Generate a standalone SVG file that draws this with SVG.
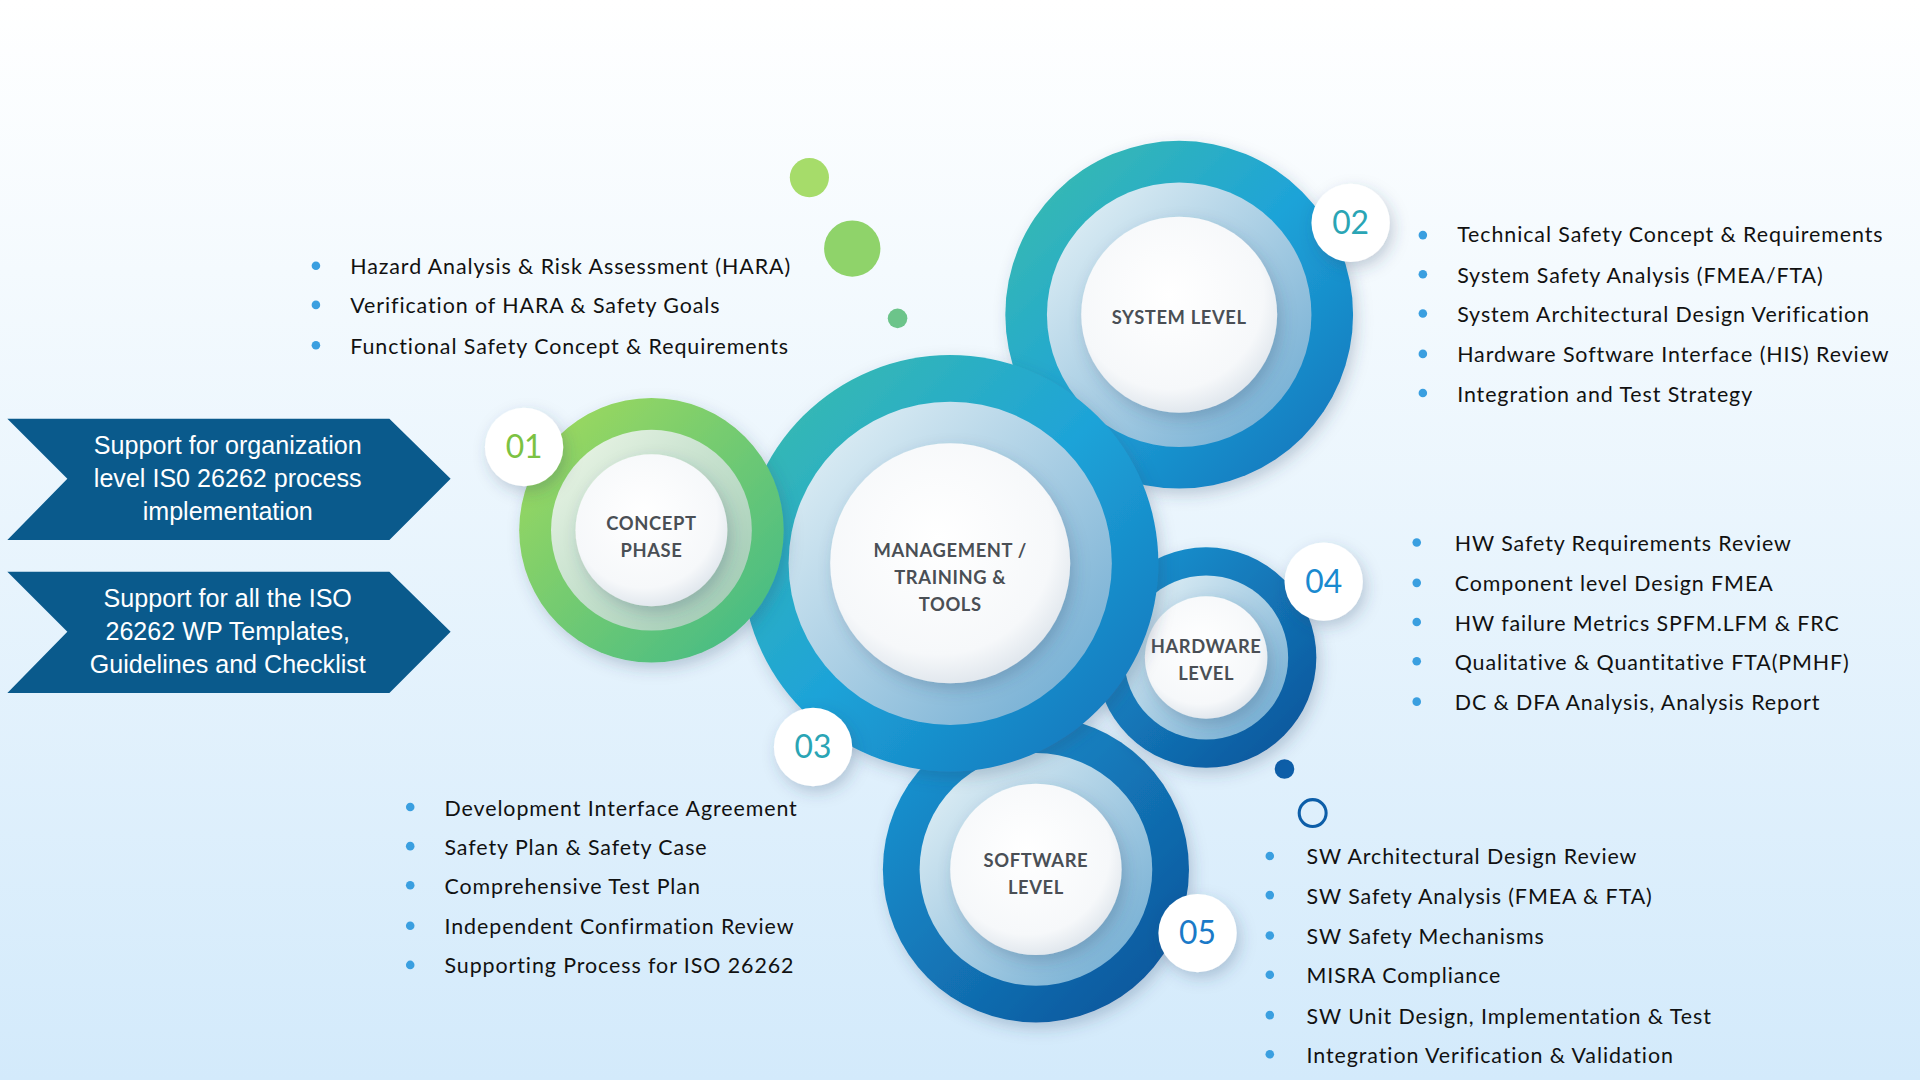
<svg xmlns="http://www.w3.org/2000/svg" width="1920" height="1080" viewBox="0 0 1920 1080">
<defs>
<linearGradient id="bg" x1="0" y1="0" x2="0" y2="1"><stop offset="0" stop-color="#ffffff"/><stop offset="0.25" stop-color="#f4fafe"/><stop offset="1" stop-color="#d3eafb"/></linearGradient>
<linearGradient id="blueG" x1="0" y1="0" x2="1" y2="1"><stop offset="0" stop-color="#3dbfa8"/><stop offset="0.5" stop-color="#1ea3d8"/><stop offset="1" stop-color="#0f6fb8"/></linearGradient>
<linearGradient id="deepG" x1="0" y1="0" x2="1" y2="1"><stop offset="0" stop-color="#1a9ad6"/><stop offset="1" stop-color="#0b4f96"/></linearGradient>
<linearGradient id="greenG" x1="0" y1="0" x2="1" y2="1"><stop offset="0" stop-color="#a6dc5a"/><stop offset="1" stop-color="#3cb88a"/></linearGradient>
<linearGradient id="ringG" x1="0" y1="0" x2="1" y2="1"><stop offset="0" stop-color="#e8f4f8"/><stop offset="1" stop-color="#6aa8d0"/></linearGradient>
<linearGradient id="ringGr" x1="0" y1="0" x2="1" y2="1"><stop offset="0" stop-color="#eef7e8"/><stop offset="1" stop-color="#9ac8b0"/></linearGradient>
<radialGradient id="core" cx="0.45" cy="0.4" r="0.6"><stop offset="0" stop-color="#ffffff"/><stop offset="0.8" stop-color="#f6f8fa"/><stop offset="1" stop-color="#e2e8ee"/></radialGradient>
<filter id="sh" x="-30%" y="-30%" width="160%" height="160%"><feDropShadow dx="3" dy="5" stdDeviation="6" flood-color="#2a4a6a" flood-opacity="0.25"/></filter>
</defs>
<style>
.lbl{font-family:Lato,"Open Sans",sans-serif;font-size:15px;font-weight:bold;fill:#4a4f55;text-anchor:middle;letter-spacing:0.5px}
.bd{font-family:Lato,"Open Sans",sans-serif;font-size:26px;text-anchor:middle}
.li{font-family:Lato,"Open Sans",sans-serif;font-size:17.5px;fill:#111;letter-spacing:0.75px}
.bu{fill:#3a9fe0}
.ar{fill:#0a5a8c}
.at{font-family:"Liberation Sans",Arial,sans-serif;font-size:20.5px;fill:#fff;text-anchor:middle}
</style>
<rect width="1920" height="1080" fill="url(#bg)"/>
<g transform="scale(1.2245)">
<g id="dots">
<circle cx="661" cy="145" r="16" fill="#a6dc6a"/>
<circle cx="696" cy="203" r="23" fill="#8fd36a"/>
<circle cx="733" cy="260" r="8" fill="#6cc48a"/>
<circle cx="1049" cy="628" r="8" fill="#0d5ea8"/>
<circle cx="1072" cy="664" r="11" fill="none" stroke="#0d5ea8" stroke-width="2.5"/>
</g>
<g id="system"><circle cx="963" cy="257" r="142" fill="url(#blueG)" filter="url(#sh)"/><circle cx="963" cy="257" r="108" fill="url(#ringG)"/><circle cx="963" cy="257" r="80" fill="url(#core)" filter="url(#sh)"/><text class="lbl" x="963" y="265">SYSTEM LEVEL</text></g>
<g id="software"><circle cx="846" cy="710" r="125" fill="url(#deepG)" filter="url(#sh)"/><circle cx="846" cy="710" r="95" fill="url(#ringG)"/><circle cx="846" cy="710" r="70" fill="url(#core)" filter="url(#sh)"/><text class="lbl" x="846" y="708">SOFTWARE</text><text class="lbl" x="846" y="730">LEVEL</text></g>
<g id="hardware"><circle cx="985" cy="537" r="90" fill="url(#deepG)" filter="url(#sh)"/><circle cx="985" cy="537" r="67" fill="url(#ringG)"/><circle cx="985" cy="537" r="50" fill="url(#core)" filter="url(#sh)"/><text class="lbl" x="985" y="533">HARDWARE</text><text class="lbl" x="985" y="555">LEVEL</text></g>
<g id="management"><circle cx="776" cy="460" r="170" fill="url(#blueG)" filter="url(#sh)"/><circle cx="776" cy="460" r="132" fill="url(#ringG)"/><circle cx="776" cy="460" r="98" fill="url(#core)" filter="url(#sh)"/><text class="lbl" x="776" y="455">MANAGEMENT /</text><text class="lbl" x="776" y="477">TRAINING &amp;</text><text class="lbl" x="776" y="499">TOOLS</text></g>
<g id="concept"><circle cx="532" cy="433" r="108" fill="url(#greenG)" filter="url(#sh)"/><circle cx="532" cy="433" r="82" fill="url(#ringGr)"/><circle cx="532" cy="433" r="62" fill="url(#core)" filter="url(#sh)"/><text class="lbl" x="532" y="433">CONCEPT</text><text class="lbl" x="532" y="455">PHASE</text></g>
<g id="badges">
<circle cx="428" cy="365" r="32" fill="#fff" filter="url(#sh)"/><text class="bd" x="428" y="374" fill="#7cc242">01</text>
<circle cx="1103" cy="182" r="32" fill="#fff" filter="url(#sh)"/><text class="bd" x="1103" y="191" fill="#2aa5b5">02</text>
<circle cx="664" cy="610" r="32" fill="#fff" filter="url(#sh)"/><text class="bd" x="664" y="619" fill="#2aa5b5">03</text>
<circle cx="1081" cy="475" r="32" fill="#fff" filter="url(#sh)"/><text class="bd" x="1081" y="484" fill="#1a8ad0">04</text>
<circle cx="978" cy="762" r="32" fill="#fff" filter="url(#sh)"/><text class="bd" x="978" y="771" fill="#1a7ac8">05</text>
</g>
<g id="arrows">
<polygon class="ar" points="6,342 318,342 368,391 318,441 6,441 55,391"/>
<text class="at" x="186" y="371">Support for organization</text><text class="at" x="186" y="398">level IS0 26262 process</text><text class="at" x="186" y="425">implementation</text>
<polygon class="ar" points="6,467 318,467 368,516 318,566 6,566 55,516"/>
<text class="at" x="186" y="496">Support for all the ISO</text><text class="at" x="186" y="523">26262 WP Templates,</text><text class="at" x="186" y="550">Guidelines and Checklist</text>
</g>
<g id="list1">
<circle class="bu" cx="258" cy="217" r="3.5"/><text class="li" x="286" y="224">Hazard Analysis &amp; Risk Assessment (HARA)</text>
<circle class="bu" cx="258" cy="249" r="3.5"/><text class="li" x="286" y="256">Verification of HARA &amp; Safety Goals</text>
<circle class="bu" cx="258" cy="282" r="3.5"/><text class="li" x="286" y="289">Functional Safety Concept &amp; Requirements</text>
</g>
<g id="list2">
<circle class="bu" cx="1162" cy="192" r="3.5"/><text class="li" x="1190" y="198">Technical Safety Concept &amp; Requirements</text>
<circle class="bu" cx="1162" cy="224" r="3.5"/><text class="li" x="1190" y="231">System Safety Analysis (FMEA/FTA)</text>
<circle class="bu" cx="1162" cy="256" r="3.5"/><text class="li" x="1190" y="263">System Architectural Design Verification</text>
<circle class="bu" cx="1162" cy="289" r="3.5"/><text class="li" x="1190" y="296">Hardware Software Interface (HIS) Review</text>
<circle class="bu" cx="1162" cy="321" r="3.5"/><text class="li" x="1190" y="328">Integration and Test Strategy</text>
</g>
<g id="list4">
<circle class="bu" cx="1157" cy="443" r="3.5"/><text class="li" x="1188" y="450">HW Safety Requirements Review</text>
<circle class="bu" cx="1157" cy="476" r="3.5"/><text class="li" x="1188" y="483">Component level Design FMEA</text>
<circle class="bu" cx="1157" cy="508" r="3.5"/><text class="li" x="1188" y="515">HW failure Metrics SPFM.LFM &amp; FRC</text>
<circle class="bu" cx="1157" cy="540" r="3.5"/><text class="li" x="1188" y="547">Qualitative &amp; Quantitative FTA(PMHF)</text>
<circle class="bu" cx="1157" cy="573" r="3.5"/><text class="li" x="1188" y="580">DC &amp; DFA Analysis, Analysis Report</text>
</g>
<g id="list3">
<circle class="bu" cx="335" cy="659" r="3.5"/><text class="li" x="363" y="666">Development Interface Agreement</text>
<circle class="bu" cx="335" cy="691" r="3.5"/><text class="li" x="363" y="698">Safety Plan &amp; Safety Case</text>
<circle class="bu" cx="335" cy="723" r="3.5"/><text class="li" x="363" y="730">Comprehensive Test Plan</text>
<circle class="bu" cx="335" cy="756" r="3.5"/><text class="li" x="363" y="763">Independent Confirmation Review</text>
<circle class="bu" cx="335" cy="788" r="3.5"/><text class="li" x="363" y="795">Supporting Process for ISO 26262</text>
</g>
<g id="list5">
<circle class="bu" cx="1037" cy="699" r="3.5"/><text class="li" x="1067" y="706">SW Architectural Design Review</text>
<circle class="bu" cx="1037" cy="731" r="3.5"/><text class="li" x="1067" y="738">SW Safety Analysis (FMEA &amp; FTA)</text>
<circle class="bu" cx="1037" cy="764" r="3.5"/><text class="li" x="1067" y="771">SW Safety Mechanisms</text>
<circle class="bu" cx="1037" cy="796" r="3.5"/><text class="li" x="1067" y="803">MISRA Compliance</text>
<circle class="bu" cx="1037" cy="829" r="3.5"/><text class="li" x="1067" y="836">SW Unit Design, Implementation &amp; Test</text>
<circle class="bu" cx="1037" cy="861" r="3.5"/><text class="li" x="1067" y="868">Integration Verification &amp; Validation</text>
</g>
</g>
</svg>
